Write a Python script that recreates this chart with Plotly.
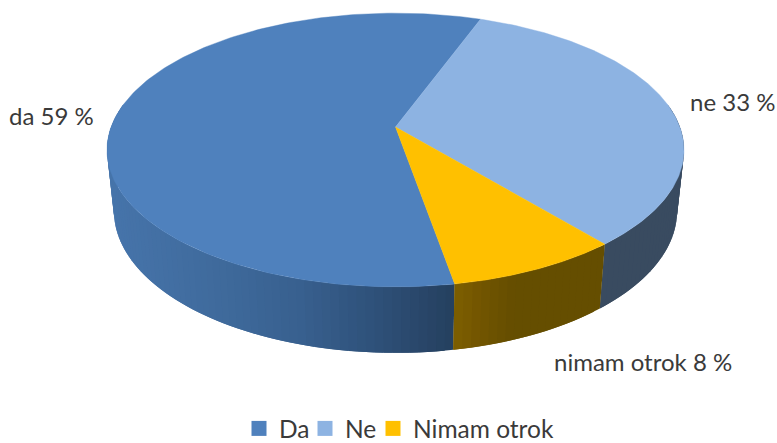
import numpy as np
import plotly.graph_objects as go

categories = ["Da", "Ne", "Nimam otrok"]
shares = [58.4, 33.3, 8.3]
slice_labels = ["da 59 %", "ne 33 %", "nimam otrok 8 %"]
top_colors = ["#4F81BD", "#8DB3E2", "#FFC000"]

W, H = 777, 443
START_DEG = 170.0   # Da starts here, clockwise, going through the left side
CX = 395.5
K = -0.168          # perspective
TOP = dict(R=284.4, y0=127.0, a=133.0)
BOT = dict(R=277.6, y0=187.0, a=138.0)


def project(deg, disc, r=1.0):
    t = np.radians(deg)
    u, v = r * np.sin(t), -r * np.cos(t)
    w = 1 + K * v
    return CX + disc["R"] * u / w, disc["y0"] + disc["a"] * v / w


def hex2rgb(h):
    return np.array([int(h[i:i + 2], 16) for i in (1, 3, 5)], float)


def wall_color(stops, x):
    xs = [s[0] for s in stops]
    rgb = np.array([hex2rgb(s[1]) for s in stops])
    c = [np.interp(x, xs, rgb[:, i]) for i in range(3)]
    return "rgb(%d,%d,%d)" % tuple(round(v) for v in c)


wall_stops = [
    [(110, "#4674AA"), (220, "#3F6A9C"), (300, "#38608F"), (380, "#2E5078"), (455, "#25405F")],
    [(595, "#394B60"), (690, "#394B60")],
    [(453, "#7F6000"), (480, "#735600"), (515, "#654E00"), (605, "#654E00")],
]

# slice angle ranges
span = [s / sum(shares) * 360 for s in shares]
da = (START_DEG, START_DEG + span[0])
ne = (da[1], da[1] + span[1])
nm = (ne[1], ne[1] + span[2])
ranges = [da, ne, nm]

fig = go.Figure()

# walls: narrow overlapping strips, only the visible, front side of the cake
VIS_LO, VIS_HI = 80.0, 280.0
for i, (a0, a1) in enumerate(ranges):
    for lo, hi in [(a0, a1), (a0 - 360, a1 - 360)]:
        lo, hi = max(lo, VIS_LO), min(hi, VIS_HI)
        if hi <= lo:
            continue
        n = max(2, int((hi - lo) / 1.5))
        edges = np.linspace(lo, hi, n + 1)
        step = edges[1] - edges[0]
        for e0 in edges[:-1]:
            ang = np.linspace(e0, min(e0 + 2 * step, hi), 4)
            xt, yt = project(ang, TOP)
            xb, yb = project(ang, BOT)
            xs = list(xt) + list(xb[::-1]) + [xt[0]]
            ys = list(yt) + list(yb[::-1]) + [yt[0]]
            col = wall_color(wall_stops[i], float(np.mean(xt[:2])))
            fig.add_trace(go.Scatter(x=xs, y=ys, mode="lines", fill="toself", fillcolor=col,
                                     line=dict(color=col, width=0), hoverinfo="skip",
                                     showlegend=False))

# top faces
for i, (a0, a1) in enumerate(ranges):
    ang = np.linspace(a0, a1, 200)
    xr, yr = project(ang, TOP)
    xc, yc = project(0.0, TOP, 0.0)
    fig.add_trace(go.Scatter(x=[float(xc)] + list(xr) + [float(xc)], y=[float(yc)] + list(yr) + [float(yc)],
                             mode="lines", fill="toself", fillcolor=top_colors[i],
                             line=dict(color=top_colors[i], width=0.4), hoverinfo="skip", showlegend=False))

# legend entries, one small legend each so that their spacing can follow the reference
legend_ids = ["legend", "legend2", "legend3"]
legend_left = [239, 305, 373]
for name, col, lid in zip(categories, top_colors, legend_ids):
    fig.add_trace(go.Scatter(x=[None], y=[None], mode="markers", name=name, legend=lid,
                             marker=dict(symbol="square", size=15, color=col)))

label_pos = [(51, 115), (732, 101), (643, 361)]
for txt, (x, y) in zip(slice_labels, label_pos):
    fig.add_annotation(x=x, y=y, text=txt, showarrow=False, xref="x", yref="y",
                       font=dict(family="Lato", size=24, color="#3a3a3a"))

legend_style = dict(orientation="h", xanchor="left", y=-0.018, yanchor="bottom",
                    font=dict(family="Lato", size=24.5, color="#3a3a3a"), bgcolor="rgba(0,0,0,0)")
fig.update_layout(
    width=W, height=H, margin=dict(l=0, r=0, t=0, b=0, autoexpand=False),
    paper_bgcolor="white", plot_bgcolor="white",
    xaxis=dict(range=[0, W], visible=False, fixedrange=True),
    yaxis=dict(range=[H, 0], visible=False, fixedrange=True),
    **{lid: dict(x=left / W, **legend_style) for lid, left in zip(legend_ids, legend_left)},
)
fig.write_html("out.html", config=dict(displayModeBar=False),
               post_script="document.body.style.margin='0';document.body.style.overflow='hidden';")
